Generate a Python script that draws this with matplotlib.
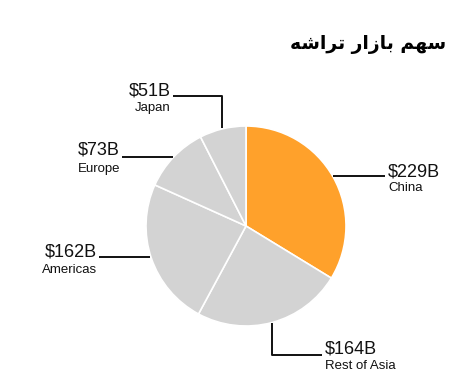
import matplotlib
matplotlib.use("Agg")
import matplotlib.pyplot as plt

# chip market share by region (billions of USD)
regions = ["China", "Rest of Asia", "Americas", "Europe", "Japan"]
values = [229, 164, 162, 73, 51]
colors = ["#FFA12B", "#D3D3D3", "#D3D3D3", "#D3D3D3", "#D3D3D3"]
title = "سهم بازار تراشه"

# minimal Arabic shaping: letter -> (isolated, final, initial, medial)
FORMS = {
    "س": ("\uFEB1", "\uFEB2", "\uFEB3", "\uFEB4"),
    "ه": ("\uFEE9", "\uFEEA", "\uFEEB", "\uFEEC"),
    "م": ("\uFEE1", "\uFEE2", "\uFEE3", "\uFEE4"),
    "ب": ("\uFE8F", "\uFE90", "\uFE91", "\uFE92"),
    "ت": ("\uFE95", "\uFE96", "\uFE97", "\uFE98"),
    "ش": ("\uFEB5", "\uFEB6", "\uFEB7", "\uFEB8"),
    "ا": ("\uFE8D", "\uFE8E", None, None),
    "ز": ("\uFEAF", "\uFEB0", None, None),
    "ر": ("\uFEAD", "\uFEAE", None, None),
}


def joins_next(ch):
    return ch in FORMS and FORMS[ch][2] is not None


def shape(text):
    out = []
    for i, ch in enumerate(text):
        if ch not in FORMS:
            out.append(ch)
            continue
        prev = text[i - 1] if i > 0 else ""
        nxt = text[i + 1] if i + 1 < len(text) else ""
        left = joins_next(prev)
        right = joins_next(ch) and nxt in FORMS
        iso, fin, ini, med = FORMS[ch]
        if left and right:
            out.append(med)
        elif left:
            out.append(fin)
        elif right:
            out.append(ini)
        else:
            out.append(iso)
    return "".join(out)[::-1]


W, H = 473, 391
fig = plt.figure(figsize=(W / 100, H / 100), dpi=100)
ax = fig.add_axes([0, 0, 1, 1])

cx, cy, r = 246, H - 226, 100
ax.pie(values, colors=colors, startangle=90, counterclock=False,
       center=(cx, cy), radius=r,
       wedgeprops=dict(edgecolor="white", linewidth=1.2))
ax.set_xlim(0, W)
ax.set_ylim(0, H)
ax.set_aspect("equal")
ax.axis("off")


def py(y):
    return H - y


# leader lines (pixel layout, y measured from top)
leaders = {
    "China": [(333, 176), (385, 176)],
    "Rest of Asia": [(272, 323), (272, 355), (322, 355)],
    "Americas": [(99, 257), (150, 257)],
    "Europe": [(122, 157), (173, 157)],
    "Japan": [(173, 96), (222, 96), (222, 128)],
}
# label anchors: (x, value y, name y, ha)
anchors = {
    "China": (388, 172, 188, "left"),
    "Rest of Asia": (325, 349, 366, "left"),
    "Americas": (97, 252, 270, "right"),
    "Europe": (120, 150, 169, "right"),
    "Japan": (171, 91, 108, "right"),
}

for name, val in zip(regions, values):
    pts = leaders[name]
    ax.plot([p[0] for p in pts], [py(p[1]) for p in pts],
            color="#111111", lw=1.4, solid_capstyle="butt")
    x, yv, yn, ha = anchors[name]
    ax.text(x, py(yv), f"${val}B", ha=ha, va="center",
            fontsize=13, family="Liberation Sans", color="#111111")
    ax.text(x, py(yn), name, ha=ha, va="center",
            fontsize=9.5, family="Liberation Sans", color="#111111")

ax.text(446, py(44), shape(title), ha="right", va="center",
        fontsize=13.5, fontweight="bold", family="DejaVu Sans", color="#000000")

fig.savefig("out.png", dpi=100)
